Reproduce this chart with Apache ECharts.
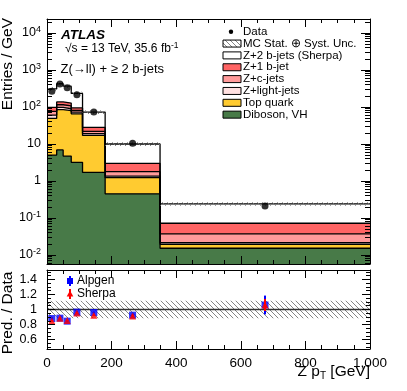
<!DOCTYPE html>
<html>
<head>
<meta charset="utf-8">
<script src="https://cdn.jsdelivr.net/npm/echarts@6/dist/echarts.min.js"></script>
<style>
html, body { margin: 0; padding: 0; background: #fff; }
#chart { width: 407px; height: 391px; }
</style>
</head>
<body>
<div id="chart"></div>
<script>
// bins in Z pT [GeV]
var binEdges = [0, 30, 50, 75, 110, 180, 350, 1000];
// data, Entries / GeV
var dataValues = [265, 420, 330, 215, 73, 10.5, 0.21];
// MC components, Entries / GeV (stacked bottom -> top)
var diboson = [5.0, 6.9, 4.7, 3.2, 1.7, 0.45, 0.0152];
var topQuark = [44, 78, 75, 62, 15.3, 0.78, 0.0043];
var zLight = [11, 13, 10, 7, 2, 0.13, 0.002];
var zCharm = [16, 17, 18, 9, 3, 0.42, 0.0155];
var z1b = [22, 22, 20, 13, 6, 1.22, 0.035];
var z2b = [209, 288, 237, 138, 45, 7.0, 0.168];
// relative MC stat+syst uncertainty
var mcUnc = [0.115, 0.115, 0.115, 0.115, 0.115, 0.115, 0.115];
// ratio panel: prediction / data
var alpgenRatio = [0.88, 0.885, 0.845, 0.965, 0.96, 0.925, 1.06];
var alpgenErr = [0.015, 0.012, 0.012, 0.015, 0.015, 0.02, 0.125];
var sherpaRatio = [0.85, 0.885, 0.855, 0.955, 0.925, 0.915, 1.06];
var sherpaErr = [0.012, 0.01, 0.01, 0.012, 0.012, 0.018, 0.08];
// tick labels
var yTickValues = [0.01, 0.1, 1, 10, 100, 1000, 10000];
var yTickLabels = ['{b|10}{e|-2}', '{b|10}{e|-1}', '1', '10', '{b|10}{e|2}', '{b|10}{e|3}', '{b|10}{e|4}'];
var ratioTickValues = [0.6, 0.8, 1, 1.2, 1.4];

var FONT = 'Liberation Sans, Arial, Helvetica, sans-serif';
var myChart = echarts.init(document.getElementById('chart'));

// hatch pattern for uncertainty band
var hatch = document.createElement('canvas');
hatch.width = 5; hatch.height = 5;
var hc = hatch.getContext('2d');
hc.strokeStyle = '#777';
hc.lineWidth = 0.9;
hc.beginPath();
hc.moveTo(-1, -1); hc.lineTo(6, 6);
hc.moveTo(-1, 4); hc.lineTo(2, 7);
hc.moveTo(4, -1); hc.lineTo(7, 2);
hc.stroke();
var hatchFill = { image: hatch, repeat: 'repeat' };

// minor log ticks
var yMinor = [];
for (var p = -3; p <= 4; p++) {
  for (var k = 2; k <= 9; k++) {
    var v = k * Math.pow(10, p);
    if (v > 0.0057 && v < 23900) yMinor.push(v);
  }
}
var ratioMinor = [];
for (var r = 0.5; r < 1.52; r += 0.05) ratioMinor.push(Math.round(r * 100) / 100);

// stacking
var layers = [
  { name: 'Diboson, VH', vals: diboson, color: '#487a48' },
  { name: 'Top quark', vals: topQuark, color: '#ffcb30' },
  { name: 'Z+light-jets', vals: zLight, color: '#ffe0e0' },
  { name: 'Z+c-jets', vals: zCharm, color: '#ff9a9a' },
  { name: 'Z+1 b-jet', vals: z1b, color: '#ff6464' },
  { name: 'Z+2 b-jets (Sherpa)', vals: z2b, color: '#ffffff' }
];
var cum = [0, 0, 0, 0, 0, 0, 0];
layers.forEach(function (l) {
  cum = cum.map(function (c, i) { return c + l.vals[i]; });
  l.top = cum.slice();
});
var total = cum;

function stepData(tops) {
  var d = [];
  for (var i = 0; i < tops.length; i++) d.push([binEdges[i], tops[i]]);
  d.push([binEdges[binEdges.length - 1], tops[tops.length - 1]]);
  return d;
}
var centers = [];
for (var i = 0; i < binEdges.length - 1; i++) centers.push((binEdges[i] + binEdges[i + 1]) / 2);

var series = [];
// draw top layer first so lower layers cover it
layers.slice().reverse().forEach(function (l) {
  series.push({
    name: l.name,
    type: 'line',
    xAxisIndex: 0, yAxisIndex: 0,
    step: 'end',
    symbol: 'none',
    data: stepData(l.top),
    lineStyle: { color: '#000', width: 1.3 },
    areaStyle: { color: l.color, opacity: 1, origin: 'start' },
    silent: true
  });
});

function bandItem(params, api) {
  var p0 = api.coord([api.value(0), api.value(3)]);
  var p1 = api.coord([api.value(1), api.value(2)]);
  return {
    type: 'rect',
    shape: { x: p0[0], y: p0[1], width: p1[0] - p0[0], height: p1[1] - p0[1] },
    style: { fill: hatchFill, stroke: null }
  };
}
series.push({
  type: 'custom', xAxisIndex: 0, yAxisIndex: 0, z: 5,
  renderItem: bandItem,
  data: total.map(function (t, i) { return [binEdges[i], binEdges[i + 1], t * (1 - mcUnc[i]), t * (1 + mcUnc[i])]; })
});
series.push({
  name: 'Data', type: 'scatter', xAxisIndex: 0, yAxisIndex: 0, z: 6,
  symbol: 'circle', symbolSize: 7,
  itemStyle: { color: '#000' },
  data: dataValues.map(function (v, i) { return [centers[i], v]; })
});

// ratio panel
series.push({
  type: 'custom', xAxisIndex: 2, yAxisIndex: 4, z: 3,
  renderItem: bandItem,
  data: mcUnc.map(function (u, i) { return [binEdges[i], binEdges[i + 1], 1 - u, 1 + u]; })
});
series.push({
  type: 'line', xAxisIndex: 2, yAxisIndex: 4, z: 4, symbol: 'none',
  lineStyle: { color: '#333', width: 1.5 },
  data: [[0, 1], [1000, 1]]
});
function errItem(color) {
  return function (params, api) {
    var a = api.coord([api.value(0), api.value(1) - api.value(2)]);
    var b = api.coord([api.value(0), api.value(1) + api.value(2)]);
    return { type: 'line', shape: { x1: a[0], y1: a[1], x2: b[0], y2: b[1] }, style: { stroke: color, lineWidth: 2 } };
  };
}
series.push({
  type: 'custom', xAxisIndex: 2, yAxisIndex: 4, z: 5,
  renderItem: errItem('#0000ff'),
  data: alpgenRatio.map(function (v, i) { return [centers[i], v, alpgenErr[i]]; })
});
series.push({
  name: 'Alpgen', type: 'scatter', xAxisIndex: 2, yAxisIndex: 4, z: 6,
  symbol: 'rect', symbolSize: 7, itemStyle: { color: '#0000ff' },
  data: alpgenRatio.map(function (v, i) { return [centers[i], v]; })
});
series.push({
  type: 'custom', xAxisIndex: 2, yAxisIndex: 4, z: 7,
  renderItem: errItem('#ff0000'),
  data: sherpaRatio.map(function (v, i) { return [centers[i], v, sherpaErr[i]]; })
});
series.push({
  name: 'Sherpa', type: 'scatter', xAxisIndex: 2, yAxisIndex: 4, z: 8,
  symbol: 'triangle', symbolSize: 7, itemStyle: { color: '#ff0000' },
  data: sherpaRatio.map(function (v, i) { return [centers[i], v]; })
});

function xAx(grid, pos, labels) {
  return {
    gridIndex: grid, position: pos, type: 'value', min: 0, max: 1000, interval: 200, z: 10,
    axisLine: { show: true, onZero: false, lineStyle: { color: '#000', width: 1 } },
    axisTick: { show: true, inside: true, length: 8, lineStyle: { color: '#000' } },
    minorTick: { show: true, splitNumber: 4, length: 4, lineStyle: { color: '#000' } },
    axisLabel: { show: labels, margin: 7, fontFamily: FONT, fontSize: 13.5, color: '#000' },
    splitLine: { show: false }
  };
}
function yAx(grid, pos, isLog, ticks, len, line, labels) {
  var a = {
    gridIndex: grid, position: pos, z: 10,
    axisLine: { show: line, onZero: false, lineStyle: { color: '#000', width: 1 } },
    axisTick: { show: true, inside: true, length: len, customValues: ticks, lineStyle: { color: '#000' } },
    axisLabel: { show: false },
    splitLine: { show: false }
  };
  if (isLog) { a.type = 'log'; a.min = 0.0057; a.max = 23900; a.logBase = 10; }
  else { a.type = 'value'; a.min = 0.475; a.max = 1.525; }
  if (labels) a.axisLabel = labels;
  return a;
}

var option = {
  animation: false,
  backgroundColor: '#fff',
  grid: [
    { left: 47, top: 19, width: 323, height: 245 },
    { left: 47, top: 270, width: 323, height: 79 }
  ],
  xAxis: [xAx(0, 'bottom', false), xAx(0, 'top', false), xAx(1, 'bottom', true), xAx(1, 'top', false)],
  yAxis: [
    yAx(0, 'left', true, yTickValues, 9, true, {
      show: true, customValues: yTickValues, margin: 6, color: '#000',
      fontFamily: FONT, fontSize: 12.5,
      formatter: function (v) {
        var e = Math.round(Math.log(v) / Math.LN10);
        return yTickLabels[e + 2];
      },
      rich: {
        b: { fontFamily: FONT, fontSize: 12.5, color: '#000' },
        e: { fontFamily: FONT, fontSize: 9, color: '#000', padding: [0, 0, 7, 0] }
      }
    }),
    yAx(0, 'left', true, yMinor, 5, false),
    yAx(0, 'right', true, yTickValues, 9, true),
    yAx(0, 'right', true, yMinor, 5, false),
    yAx(1, 'left', false, ratioTickValues, 8, true, {
      show: true, customValues: ratioTickValues, margin: 10, color: '#000',
      fontFamily: FONT, fontSize: 12.5
    }),
    yAx(1, 'left', false, ratioMinor, 4, false),
    yAx(1, 'right', false, ratioTickValues, 8, true),
    yAx(1, 'right', false, ratioMinor, 4, false)
  ],
  series: series
};

// legend and texts
var legendNames = ['Data', 'MC Stat. \u2295 Syst. Unc.', 'Z+2 b-jets (Sherpa)', 'Z+1 b-jet', 'Z+c-jets', 'Z+light-jets', 'Top quark', 'Diboson, VH'];
var legendFill = [null, hatchFill, '#ffffff', '#ff6464', '#ff9a9a', '#ffe0e0', '#ffcb30', '#487a48'];
var graphics = [];
legendNames.forEach(function (n, i) {
  var yc = 31.7 + i * 11.85;
  if (i === 0) {
    graphics.push({ type: 'circle', shape: { cx: 231, cy: yc, r: 2.2 }, style: { fill: '#000' } });
  } else {
    graphics.push({ type: 'rect', shape: { x: 223, y: yc - 3.5, width: 18, height: 7 },
      style: { fill: legendFill[i], stroke: '#000', lineWidth: 1 } });
  }
  graphics.push({ type: 'text', x: 243, y: yc, style: { text: n, font: '11.5px ' + FONT, fill: '#000', verticalAlign: 'middle' } });
});
graphics.push({ type: 'text', x: 61, y: 35.5, style: { text: 'ATLAS', font: 'italic bold 13.5px ' + FONT, fill: '#000', verticalAlign: 'middle' } });
graphics.push({ type: 'text', x: 65, y: 49, style: { text: '\u221as = 13 TeV, 35.6 fb{s|-1}', font: '12px ' + FONT, fill: '#000', verticalAlign: 'middle',
  rich: { s: { fontSize: 8.5, fontFamily: FONT, padding: [0, 0, 6, 0] } } } });
graphics.push({ type: 'text', x: 60.5, y: 69, style: { text: 'Z(\u2192ll) + \u2265 2 b-jets', font: '13px ' + FONT, fill: '#000', verticalAlign: 'middle' } });
// ratio legend
graphics.push({ type: 'line', shape: { x1: 70, y1: 276, x2: 70, y2: 286 }, style: { stroke: '#0000ff', lineWidth: 2 } });
graphics.push({ type: 'rect', shape: { x: 67, y: 278, width: 6, height: 6 }, style: { fill: '#0000ff' } });
graphics.push({ type: 'text', x: 77, y: 281, style: { text: 'Alpgen', font: '12px ' + FONT, fill: '#000', verticalAlign: 'middle' } });
graphics.push({ type: 'line', shape: { x1: 70, y1: 289, x2: 70, y2: 299 }, style: { stroke: '#ff0000', lineWidth: 2 } });
graphics.push({ type: 'polygon', shape: { points: [[70, 290.5], [73.3, 296.5], [66.7, 296.5]] }, style: { fill: '#ff0000' } });
graphics.push({ type: 'text', x: 77, y: 294, style: { text: 'Sherpa', font: '12px ' + FONT, fill: '#000', verticalAlign: 'middle' } });
// axis titles
graphics.push({ type: 'text', x: 8, y: 18, rotation: Math.PI / 2, style: { text: 'Entries / GeV', font: '15.5px ' + FONT, fill: '#000', align: 'right', verticalAlign: 'middle' } });
graphics.push({ type: 'text', x: 8, y: 313, rotation: Math.PI / 2, style: { text: 'Pred. / Data', font: '15.5px ' + FONT, fill: '#000', align: 'center', verticalAlign: 'middle' } });
graphics.push({ type: 'text', x: 370, y: 372, style: { text: 'Z p{s|T} [GeV]', font: '15.5px ' + FONT, fill: '#000', align: 'right', verticalAlign: 'middle',
  rich: { s: { fontSize: 10, fontFamily: FONT, padding: [9, 0, 0, 0] } } } });
option.graphic = graphics;

myChart.setOption(option);
</script>
</body>
</html>
